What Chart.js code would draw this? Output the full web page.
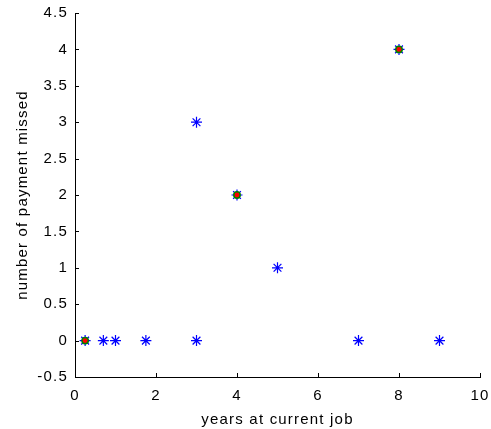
<!DOCTYPE html>
<html>
<head>
<meta charset="utf-8">
<script src="https://cdn.jsdelivr.net/npm/chart.js@4"></script>
<style>
html,body{margin:0;padding:0;background:#fff;}
#wrap{width:491px;height:429px;position:relative;}
</style>
</head>
<body>
<div id="wrap"><canvas id="c" width="491" height="429"></canvas></div>
<script>
// data
const allYears = [0.25, 0.7, 1.0, 1.75, 3, 3, 4, 5, 7, 8, 9];
const allMissed = [0, 0, 0, 0, 0, 3, 2, 1, 0, 4, 0];
const highlightYears = [0.25, 4, 8];
const highlightMissed = [0, 2, 4];
const xTicks = [0, 2, 4, 6, 8, 10];
const yTicks = [-0.5, 0, 0.5, 1, 1.5, 2, 2.5, 3, 3.5, 4, 4.5];

const toPts = (xs, ys) => xs.map((x, i) => ({x: x, y: ys[i]}));

const FONT = 'Liberation Sans, Arial, sans-serif';

const spacingPlugin = {
  id: 'spacing',
  beforeDraw(chart) { chart.ctx.letterSpacing = '1.2px'; }
};

const inwardTicks = {
  id: 'inwardTicks',
  afterDraw(chart) {
    const ctx = chart.ctx;
    const xs = chart.scales.x, ys = chart.scales.y;
    const area = chart.chartArea;
    ctx.save();
    ctx.strokeStyle = '#000';
    ctx.lineWidth = 1;
    ctx.beginPath();
    xTicks.forEach(v => {
      const px = Math.round(xs.getPixelForValue(v)) + 0.5;
      ctx.moveTo(px, area.bottom);
      ctx.lineTo(px, area.bottom - 4);
    });
    yTicks.forEach(v => {
      const py = Math.round(ys.getPixelForValue(v)) + 0.5;
      ctx.moveTo(area.left, py);
      ctx.lineTo(area.left + 4, py);
    });
    ctx.stroke();
    ctx.restore();
  }
};

new Chart(document.getElementById('c'), {
  type: 'scatter',
  data: {
    datasets: [
      {
        data: toPts(highlightYears, highlightMissed),
        pointStyle: 'circle',
        radius: 3.2,
        backgroundColor: '#ff0000',
        borderColor: '#008000',
        borderWidth: 1.5,
        order: 0
      },
      {
        data: toPts(allYears, allMissed),
        pointStyle: 'star',
        radius: 5.5,
        borderColor: '#0000ff',
        backgroundColor: '#0000ff',
        borderWidth: 1.2,
        order: 1
      }
    ]
  },
  options: {
    responsive: false,
    animation: false,
    events: [],
    layout: {padding: {top: 13, right: 11, left: 0, bottom: 0}},
    plugins: {legend: {display: false}, tooltip: {enabled: false}},
    scales: {
      x: {
        type: 'linear',
        min: 0, max: 10,
        afterBuildTicks(s) { s.ticks = xTicks.map(v => ({value: v})); },
        afterFit(s) { s.height = 52; s.paddingLeft = 0; s.paddingRight = 0; },
        grid: {display: true, drawOnChartArea: false, drawTicks: false},
        border: {display: true, color: '#000', width: 1},
        ticks: {color: '#000', font: {family: FONT, size: 15}, padding: 10, maxRotation: 0, callback: v => String(v)},
        title: {display: true, text: 'years at current job', color: '#000', font: {family: FONT, size: 15}, padding: {top: 0, bottom: 0}}
      },
      y: {
        type: 'linear',
        min: -0.5, max: 4.5,
        afterBuildTicks(s) { s.ticks = yTicks.map(v => ({value: v})); },
        afterFit(s) { s.width = 75; s.paddingTop = 0; s.paddingBottom = 0; },
        grid: {display: true, drawOnChartArea: false, drawTicks: false},
        border: {display: true, color: '#000', width: 1},
        ticks: {color: '#000', font: {family: FONT, size: 15}, padding: 7, callback: v => String(v)},
        title: {display: true, text: 'number of payment missed', color: '#000', font: {family: FONT, size: 15}, padding: {top: 14, bottom: 4}}
      }
    }
  },
  plugins: [spacingPlugin, inwardTicks]
});
</script>
</body>
</html>
